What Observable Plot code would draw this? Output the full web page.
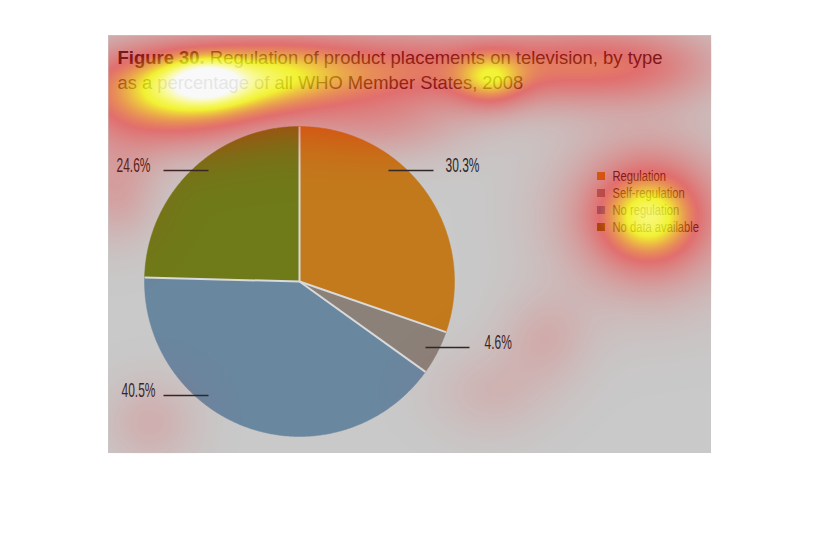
<!DOCTYPE html>
<html><head><meta charset="utf-8">
<script src="https://cdn.jsdelivr.net/npm/d3@7"></script>
<script src="https://cdn.jsdelivr.net/npm/@observablehq/plot@0.6"></script>
<style>body{margin:0;background:#fff} svg{display:block}</style>
</head><body><div id="chart"></div>
<script>
// ---- data ----
const categories = ["Regulation", "Self-regulation", "No regulation", "No data available"];
const values = [30.3, 4.6, 40.5, 24.6];
const valueLabels = ["30.3%", "4.6%", "40.5%", "24.6%"];
const colors = ["#c27a1c", "#8b8179", "#6a87a0", "#6f7a19"];
const titleBold = "Figure 30.";
const titleRest = " Regulation of product placements on television, by type";
const subtitle = "as a percentage of all WHO Member States, 2008";
// attention heatmap hotspots (centre, spread, weight)
const hotX  = [204, 200, 310, 420, 540, 640, 490, 165, 115, 380, 648, 648, 545, 490, 150];
const hotY  = [ 80,  80,  68,  68,  66,  64,  80, 118, 190, 125, 217, 214, 338, 392, 422];
const hotSX = [ 25,  85,  60,  60,  60,  60,  25,  70,  30,  60,  35,  60,  32,  40,  32];
const hotSY = [ 14,  30,  28,  28,  28,  28,  20,  30,  35,  25,  32,  55,  32,  30,  30];
const hotW  = [0.3, 0.72, 0.33, 0.35, 0.35, 0.35, 0.35, 0.3, 0.2, 0.2, 0.45, 0.4, 0.13, 0.1, 0.13];

// ---- layout ----
const W = 818, H = 548;
const panel = {x1: 108, y1: 35, x2: 711, y2: 453};
const cx = 299, cy = 281, R = 155;
const labelLayout = [
  {x1: 388, x2: 433, y: 170, tx: 445, anchor: "start"},
  {x1: 425, x2: 469, y: 347, tx: 484, anchor: "start"},
  {x1: 208, x2: 163, y: 395, tx: 155, anchor: "end"},
  {x1: 208, x2: 163, y: 170, tx: 150, anchor: "end"}
];
const legX = 597, legY = 176, legStep = 17, sw = 8;
const font = "'Liberation Sans Narrow', 'Liberation Sans', Arimo, sans-serif";

const total = d3.sum(values);
let cum = 0;
const slices = values.map((v, i) => { const a0 = cum / total * 2 * Math.PI; cum += v; const a1 = cum / total * 2 * Math.PI; return {i, a0, a1}; });
const pt = (a, r) => ({x: cx + r * Math.sin(a), y: cy - r * Math.cos(a)});
const polys = slices.map(s => {
  const pts = [{x: cx, y: cy}];
  const n = Math.max(2, Math.ceil((s.a1 - s.a0) / (Math.PI / 360)));
  for (let k = 0; k <= n; k++) pts.push(pt(s.a0 + (s.a1 - s.a0) * k / n, R));
  pts.push({x: cx, y: cy});
  return pts;
});
const bounds = slices.map(s => { const p = pt(s.a0, R); return {x1: cx, y1: cy, x2: p.x, y2: p.y}; });
const leaders = labelLayout.map((l, i) => ({...l, label: valueLabels[i]}));
const legend = categories.map((c, i) => ({c, i, y: legY + i * legStep}));

function heat(x, y) {
  let s = 0;
  for (let k = 0; k < hotX.length; k++) {
    const dx = (x - hotX[k]) / hotSX[k], dy = (y - hotY[k]) / hotSY[k];
    s += hotW[k] * Math.exp(-0.5 * (dx * dx + dy * dy));
  }
  return Math.min(1, s);
}

const marks = [
  Plot.rect([panel], {x1: "x1", y1: "y1", x2: "x2", y2: "y2", fill: "#c9c9c9"}),
  ...polys.map((p, i) => Plot.line(p, {x: "x", y: "y", fill: colors[i], stroke: colors[i], strokeWidth: 0.5, curve: "linear"})),
  Plot.link(bounds, {x1: "x1", y1: "y1", x2: "x2", y2: "y2", stroke: "#dadada", strokeWidth: 2}),
  Plot.link(leaders, {x1: "x1", x2: "x2", y1: "y", y2: "y", stroke: "#2a2a2a", strokeWidth: 1.3}),
  Plot.text(leaders.filter(d => d.anchor === "start"), {x: "tx", y: "y", text: "label", textAnchor: "start", dy: -5.7, fontSize: 21, fill: "#2a2a2a", className: "vlab"}),
  Plot.text(leaders.filter(d => d.anchor === "end"), {x: "tx", y: "y", text: "label", textAnchor: "end", dy: -5.7, fontSize: 21, fill: "#2a2a2a", className: "vlab"}),
  ...legend.map(d => Plot.rect([d], {x1: () => legX, x2: () => legX + sw, y1: d => d.y - sw / 2, y2: d => d.y + sw / 2, fill: colors[d.i]})),
  Plot.text(legend, {x: () => legX + 15, y: "y", text: "c", textAnchor: "start", fontSize: 14, fill: "#2a2a2a", className: "leg"}),
  Plot.text([titleBold + titleRest], {x: () => 117, y: () => 57, text: d => d, textAnchor: "start", fontSize: 19, fill: "#2a2a2a", className: "ttl"}),
  Plot.text([subtitle], {x: () => 117, y: () => 82.5, text: d => d, textAnchor: "start", fontSize: 19, fill: "#2a2a2a", className: "sub"}),
  Plot.raster({x1: panel.x1, y1: panel.y1, x2: panel.x2, y2: panel.y2, pixelSize: 1, imageRendering: "auto",
    fill: (x, y) => heat(x, y), fillOpacity: (x, y) => Math.min(0.88, heat(x, y))})
];

const chart = Plot.plot({
  width: W, height: H, margin: 0,
  x: {domain: [0, W], range: [0, W], axis: null},
  y: {domain: [0, H], range: [0, H], axis: null},
  color: {type: "linear", domain: [0, 0.45, 0.75, 1], range: ["#ff0000", "#ff0000", "#ffff00", "#ffffff"], clamp: true},
  opacity: {type: "linear", domain: [0, 1], range: [0, 1], clamp: true},
  style: {background: "transparent", fontFamily: font},
  marks
});
document.getElementById("chart").appendChild(chart);

// bold first words of the title
d3.select(chart).selectAll(".ttl text").each(function() {
  const t = d3.select(this);
  t.text(null);
  t.append("tspan").attr("font-weight", "bold").text(titleBold);
  t.append("tspan").text(titleRest);
});
// condensed typeface look
function condense(sel, k) {
  d3.select(chart).selectAll(sel).each(function() {
    const L = this.getComputedTextLength();
    this.setAttribute("textLength", L * k);
    this.setAttribute("lengthAdjust", "spacingAndGlyphs");
  });
}
condense(".ttl text", 0.972);
condense(".sub text", 0.965);
condense(".vlab text", 0.57);
condense(".leg text", 0.8);
</script>
</body></html>
